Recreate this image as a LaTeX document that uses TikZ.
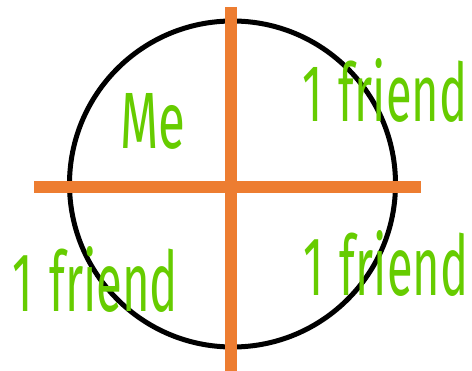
\documentclass[tikz,border=0pt]{standalone}
\usepackage{fontspec}
\setmainfont{Fira Sans}
\usepackage{graphicx}
\definecolor{crossorange}{HTML}{ED7D31}
\definecolor{handgreen}{HTML}{66CC00}
\tikzset{
  ring/.style={draw=black, line width=5pt},
  bar/.style={draw=crossorange, line width=12pt},
  hand/.style={text=handgreen, inner sep=0pt, anchor=south west}
}
\begin{document}
\begin{tikzpicture}[x=1pt,y=-1pt]
\useasboundingbox (0,0) rectangle (472,371);
\coordinate (ctr) at (232.5,184);
\draw[ring] (ctr) circle (163);
\coordinate (vtop) at (231,7);
\coordinate (vbot) at (231,371);
\coordinate (hl) at (34,187);
\coordinate (hr) at (421,187);
\draw[bar] (vtop) -- (vbot);
\draw[bar] (hl) -- (hr);
\node[hand] (me) at (120,150) {\resizebox{65pt}{55pt}{Me}};
\node[hand] (f1) at (302,123) {\resizebox{165pt}{63pt}{1\hspace{0.35em}friend}};
\node[hand] (f2) at (12,313) {\resizebox{166pt}{65pt}{1\hspace{0.35em}friend}};
\node[hand] (f3) at (303,297) {\resizebox{165pt}{65pt}{1\hspace{0.35em}friend}};
\end{tikzpicture}
\end{document}
